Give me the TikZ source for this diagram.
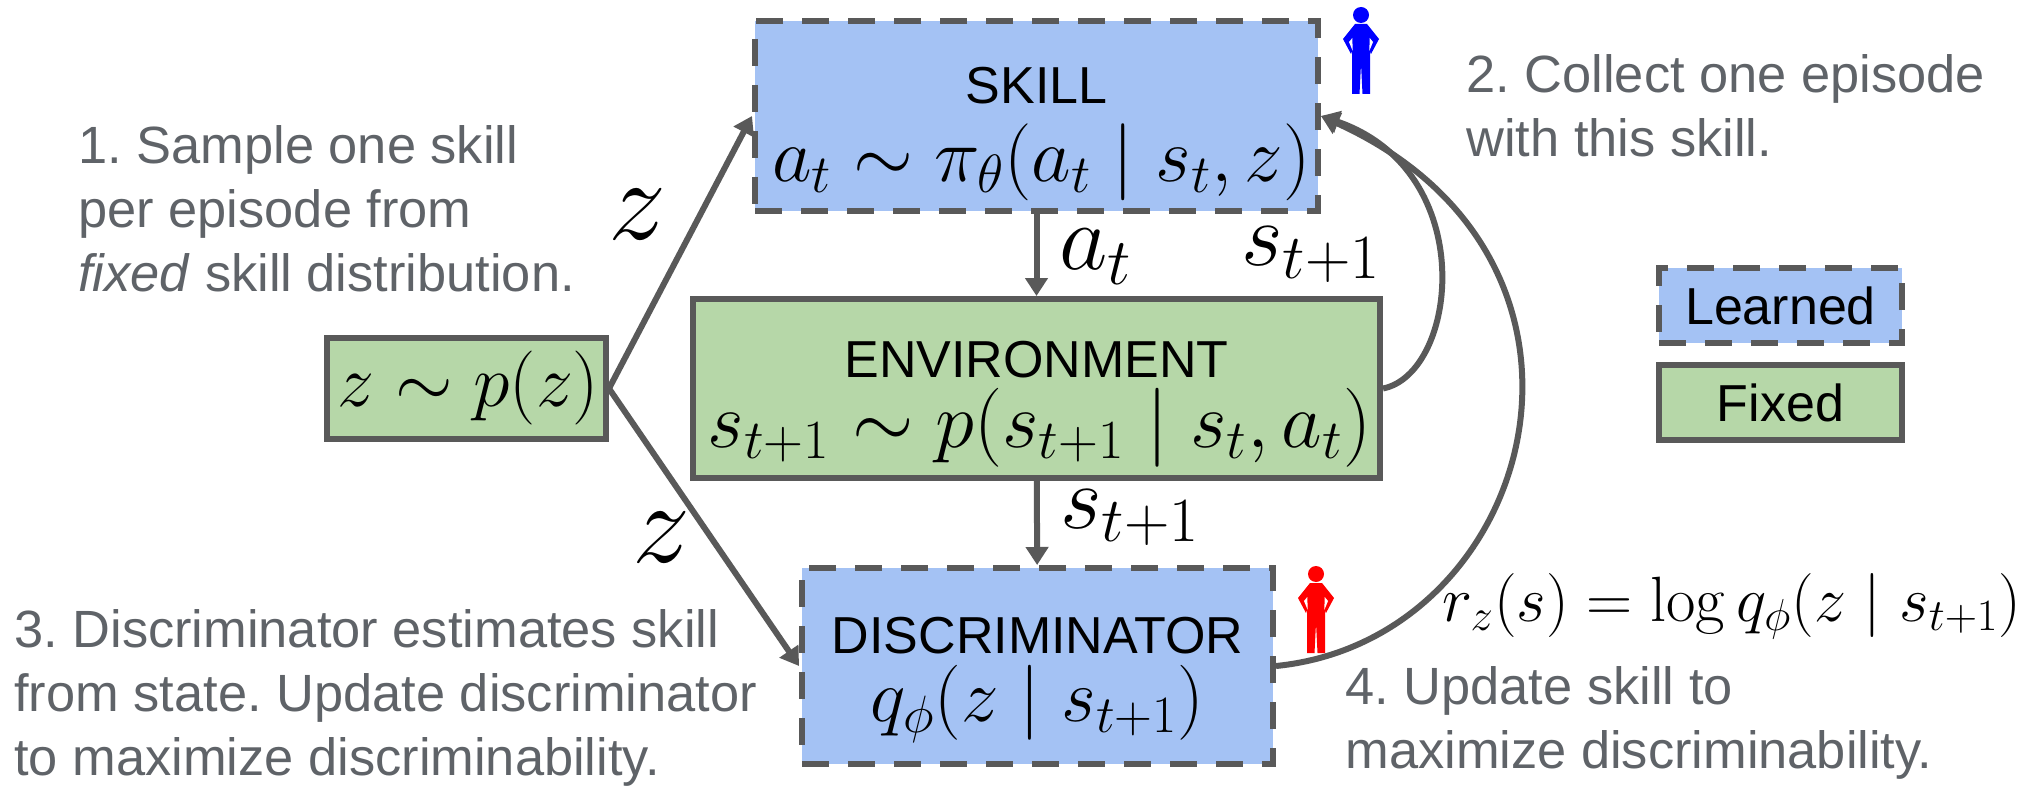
\documentclass[tikz,border=0pt]{standalone}
\usepackage{fix-cm}
\usepackage[no-math]{fontspec}
\setmainfont{Liberation Sans}
\frenchspacing
\usetikzlibrary{positioning}
\usetikzlibrary{arrows.meta}
\definecolor{figAzul}{HTML}{A4C2F4}
\definecolor{figVerde}{HTML}{B6D7A8}
\definecolor{figBorde}{HTML}{595959}
\definecolor{figNota}{HTML}{5F6368}
\newcommand{\mathsz}[1]{\fontsize{#1}{#1}\selectfont}
\tikzset{
  bloque/.style={
    rectangle, draw=figBorde, line width=3pt, inner sep=0pt,
    align=center, font=\fontsize{26}{42}\selectfont
  },
  aprendido/.style={bloque, fill=figAzul, dash pattern=on 13.5pt off 9.5pt},
  fijo/.style={bloque, fill=figVerde},
  nota/.style={
    anchor=north west, inner sep=0pt, align=left, text=figNota,
    font=\fontsize{26.2}{32}\selectfont
  },
  etiqueta/.style={anchor=base west, inner sep=0pt},
  flecha/.style={-{Triangle[length=9pt,width=11pt]}, line width=3pt, draw=figBorde},
  persona/.pic={
    \fill[pic actions] (0,0) circle (8);
    \fill[pic actions] (-6,9) -- (6,9) -- (18,24) -- (10,39) -- (9,36) -- (9,79)
      -- (1.5,79) -- (0,49) -- (-1.5,79) -- (-9,79) -- (-9,36) -- (-10,39) -- (-18,24) -- cycle;
    \fill[white] (8.7,23) -- (12,27) -- (8.3,36) -- cycle;
    \fill[white] (-8.7,23) -- (-12,27) -- (-8.3,36) -- cycle;
  }
}
\begin{document}
\begin{tikzpicture}[x=0.5pt, y=-0.5pt]
  \useasboundingbox (0,0) rectangle (2028,786);

  \node[aprendido, minimum width=281.5pt, minimum height=95pt] at (1036.5,116) (skill)
    {\rule{0pt}{36pt}SKILL\\[-3pt]\mathsz{38.5}\hspace*{5pt}$a_t \sim \pi_\theta(a_t \mid s_t, z)$};
  \node[fijo, minimum width=343.5pt, minimum height=89.5pt] at (1036.5,388.5) (env)
    {\rule{0pt}{33.5pt}ENVIRONMENT\\[-7pt]\mathsz{39.5}\hspace*{3pt}$s_{t+1} \sim p(s_{t+1} \mid s_t, a_t)$};
  \node[aprendido, minimum width=235.5pt, minimum height=98pt] at (1037.5,666) (disc)
    {\rule{0pt}{32.4pt}DISCRIMINATOR\\[-8pt]\mathsz{37.5}$q_\phi(z \mid s_{t+1})$};
  \node[fijo, minimum width=139.5pt, minimum height=50.5pt] at (466.5,388.5) (prior)
    {\mathsz{37}\hspace*{2pt}$z \sim p(z)$};
  \node[aprendido, minimum width=121.5pt, minimum height=37.5pt] at (1780.5,305.5) (learned) {Learned};
  \node[fijo, minimum width=121.5pt, minimum height=37.5pt] at (1780.5,402.5) (fixed) {Fixed};

  \draw[flecha] (prior.east) -- (skill.west);
  \draw[flecha] (prior.east) -- (disc.west);
  \draw[flecha] (skill) -- (env);
  \draw[flecha] (env) -- (disc);
  \draw[flecha] (env.east) .. controls +(75,-15) and +(160,55) .. (skill.east);
  \draw[flecha] (disc.east) .. controls +(260,-26) and +(320,145) .. (skill.east);

  \node[etiqueta] at (608,240) (zup) {\mathsz{58}$z$};
  \node[etiqueta] at (632,562) (zdown) {\mathsz{58}$z$};
  \node[etiqueta] at (1059,270) (action) {\mathsz{47}$a_t$};
  \node[etiqueta] at (1241,265) (nextup) {\mathsz{45}$s_{t+1}$};
  \node[etiqueta] at (1060,528) (nextdown) {\mathsz{45}$s_{t+1}$};
  \node[etiqueta] at (1442,621) (reward) {\mathsz{32}$r_z(s) = \log q_\phi(z \mid s_{t+1})$};

  \node[nota] at (78,125) (note1) {1. Sample one skill\\per episode from\\\textit{fixed} skill distribution.};
  \node[nota] at (1466,54) (note2) {2. Collect one episode\\with this skill.};
  \node[nota] at (14,609) (note3) {3. Discriminator estimates skill\\from state. Update discriminator\\to maximize discriminability.};
  \node[nota] at (1345,666) (note4) {4. Update skill to\\maximize discriminability.};

  \pic[fill=blue] at (1361,15) {persona};
  \pic[fill=red] at (1316,574) {persona};
\end{tikzpicture}
\end{document}
